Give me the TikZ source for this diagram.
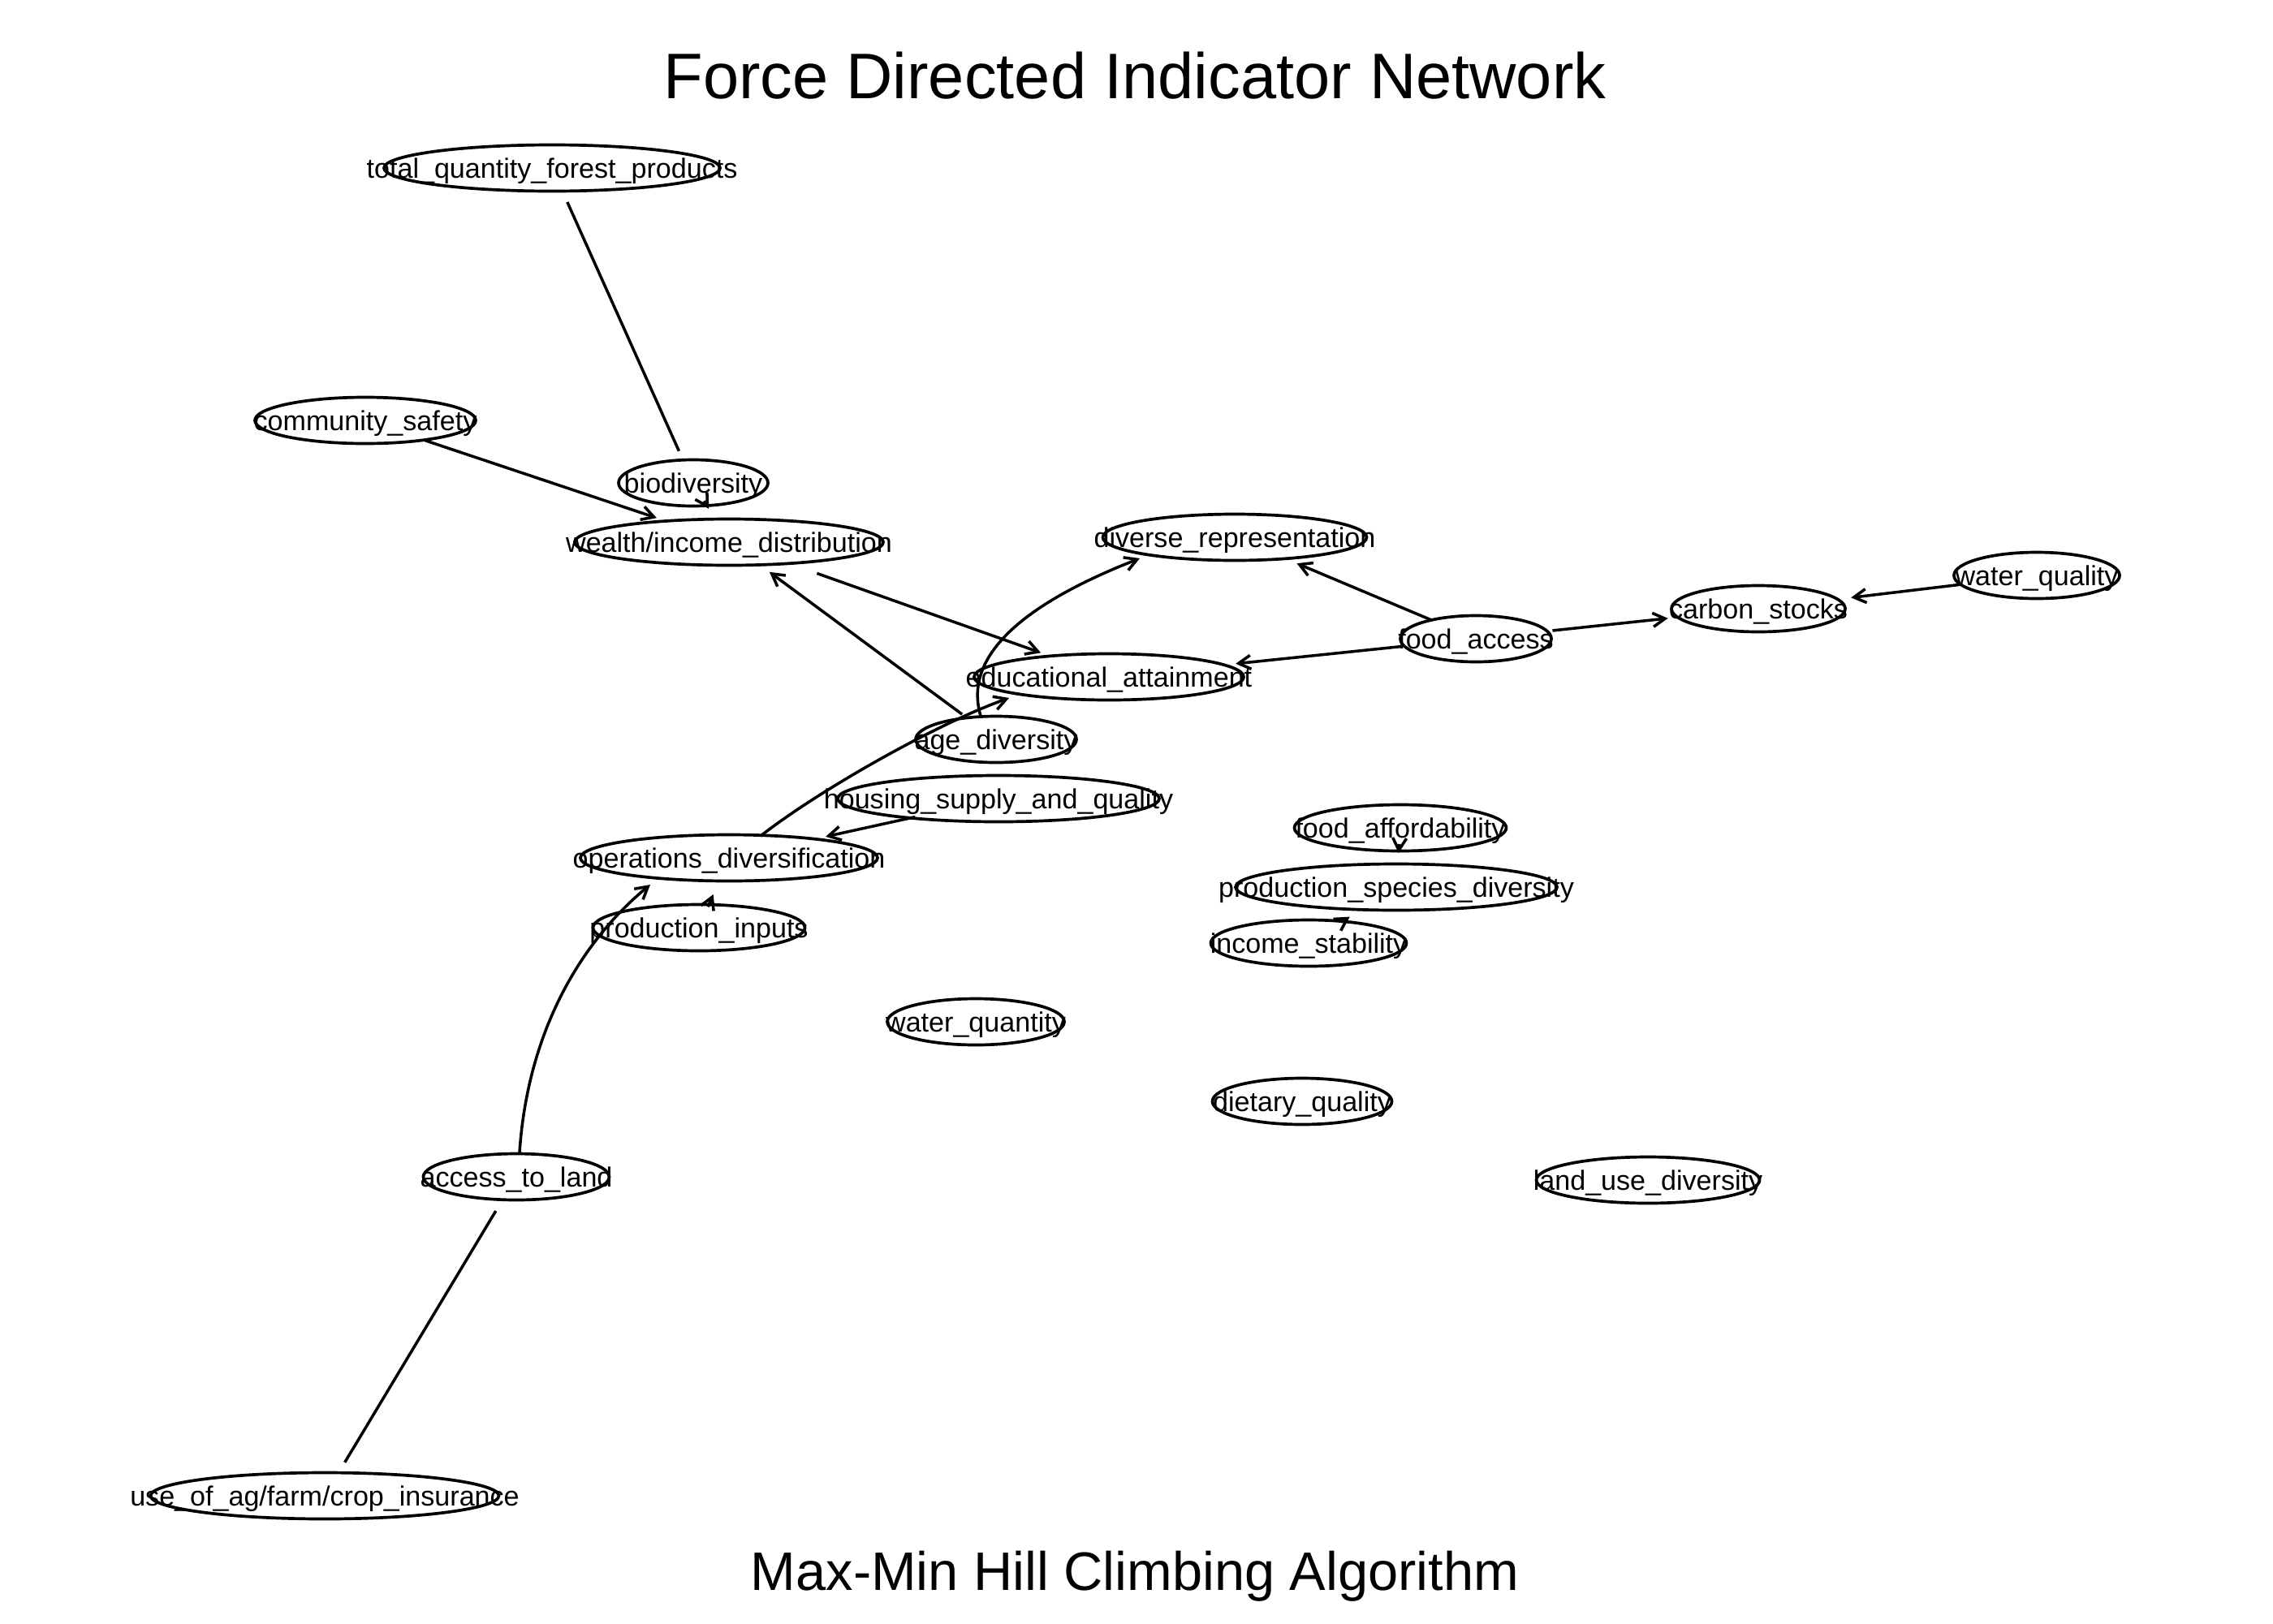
\documentclass[tikz,border=0pt]{standalone}
\usepackage{fontspec}
\setmainfont{Liberation Sans}
\usetikzlibrary{shapes.geometric,arrows.meta,calc}
\begin{document}
\begin{tikzpicture}[
  vnode/.style={ellipse, draw, line width=1.05pt, inner sep=0pt, minimum height=0.57cm,
    text height=9pt, text depth=2pt, font=\fontsize{9.7}{11}\selectfont},
  arc/.style={line width=1.0pt, -{Straight Barb[length=1.5mm,width=1.7mm]}},
  uarc/.style={line width=1.0pt},
]
\useasboundingbox (0,0) rectangle (28,-20);
\node[font=\fontsize{22.6}{27}\selectfont, anchor=base] (title) at (13.98,-1.21) {Force Directed Indicator Network};
\node[font=\fontsize{19}{23}\selectfont, anchor=base] (subtitle) at (13.98,-19.59) {Max-Min Hill Climbing Algorithm};

\node[vnode, minimum width=4.14cm] (tqfp) at (6.80,-2.07) {\makebox[0pt]{total\_quantity\_forest\_products}};
\node[vnode, minimum width=2.72cm] (comm) at (4.50,-5.18) {\makebox[0pt]{community\_safety}};
\node[vnode, minimum width=1.84cm] (bio) at (8.54,-5.95) {\makebox[0pt]{biodiversity}};
\node[vnode, minimum width=3.80cm] (wealth) at (8.98,-6.68) {\makebox[0pt]{wealth/income\_distribution}};
\node[vnode, minimum width=3.25cm] (divrep) at (15.21,-6.62) {\makebox[0pt]{diverse\_representation}};
\node[vnode, minimum width=2.04cm] (wq) at (25.09,-7.09) {\makebox[0pt]{water\_quality}};
\node[vnode, minimum width=2.14cm] (cs) at (21.66,-7.50) {\makebox[0pt]{carbon\_stocks}};
\node[vnode, minimum width=1.86cm] (fa) at (18.18,-7.87) {\makebox[0pt]{food\_access}};
\node[vnode, minimum width=3.32cm] (edu) at (13.66,-8.34) {\makebox[0pt]{educational\_attainment}};
\node[vnode, minimum width=1.98cm] (age) at (12.27,-9.11) {\makebox[0pt]{age\_diversity}};
\node[vnode, minimum width=3.96cm] (housing) at (12.30,-9.84) {\makebox[0pt]{housing\_supply\_and\_quality}};
\node[vnode, minimum width=3.66cm] (ops) at (8.98,-10.57) {\makebox[0pt]{operations\_diversification}};
\node[vnode, minimum width=2.61cm] (pinputs) at (8.61,-11.43) {\makebox[0pt]{production\_inputs}};
\node[vnode, minimum width=2.61cm] (faff) at (17.25,-10.20) {\makebox[0pt]{food\_affordability}};
\node[vnode, minimum width=3.96cm] (psd) at (17.20,-10.93) {\makebox[0pt]{production\_species\_diversity}};
\node[vnode, minimum width=2.41cm] (inc) at (16.12,-11.62) {\makebox[0pt]{income\_stability}};
\node[vnode, minimum width=2.18cm] (wqn) at (12.02,-12.59) {\makebox[0pt]{water\_quantity}};
\node[vnode, minimum width=2.21cm] (diet) at (16.04,-13.57) {\makebox[0pt]{dietary\_quality}};
\node[vnode, minimum width=2.75cm] (lud) at (20.30,-14.54) {\makebox[0pt]{land\_use\_diversity}};
\node[vnode, minimum width=2.29cm] (atl) at (6.36,-14.50) {\makebox[0pt]{access\_to\_land}};
\node[vnode, minimum width=4.29cm] (useag) at (4.00,-18.43) {\makebox[0pt]{use\_of\_ag/farm/crop\_insurance}};

% straight connectors
\draw[uarc, shorten <=0.46cm, shorten >=0.43cm] (tqfp.center) -- (bio.center);
\draw[arc, shorten <=0.78cm, shorten >=0.94cm] (comm.center) -- (wealth.center);
\draw[arc, shorten <=0.26cm, shorten >=0.48cm] (bio.center) -- (wealth.center);
\draw[arc, shorten <=1.15cm, shorten >=0.89cm] (wealth.center) -- (edu.center);
\draw[arc, shorten <=0.52cm, shorten >=0.62cm] (age.center) -- (wealth.center);
\draw[arc, shorten <=1.05cm, shorten >=1.22cm] (housing.center) -- (ops.center);
\draw[arc, shorten <=0.28cm, shorten >=0.49cm] (pinputs.center) -- (ops.center);
\draw[uarc, shorten <=0.48cm, shorten >=0.49cm] (useag.center) -- (atl.center);
\draw[arc, shorten <=0.58cm, shorten >=0.83cm] (fa.center) -- (divrep.center);
\draw[arc, shorten <=0.92cm, shorten >=1.57cm] (fa.center) -- (edu.center);
\draw[arc, shorten <=0.95cm, shorten >=1.12cm] (fa.center) -- (cs.center);
\draw[arc, shorten <=0.96cm, shorten >=1.15cm] (wq.center) -- (cs.center);
\draw[arc, shorten <=0.20cm, shorten >=0.42cm] (faff.center) -- (psd.center);
\draw[arc, shorten <=0.48cm, shorten >=0.68cm] (inc.center) -- (psd.center);

% curved connectors
\draw[arc] ($(age.center)+(-0.19,0.29)$) .. controls +(-0.27,0.90) and +(-1.02,-0.40) .. ($(divrep.center)+(-1.17,-0.26)$);
\draw[arc] ($(ops.center)+(0.39,0.27)$) .. controls +(0.70,0.55) and +(-0.90,-0.32) .. ($(edu.center)+(-1.23,-0.26)$);
\draw[arc] ($(atl.center)+(0.04,0.30)$) .. controls +(0.10,1.50) and +(-0.85,-0.70) .. ($(ops.center)+(-0.97,-0.33)$);
\end{tikzpicture}
\end{document}
